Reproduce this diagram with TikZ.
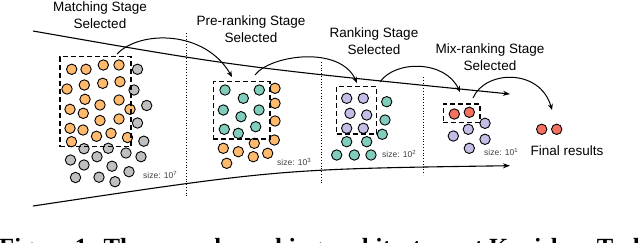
\documentclass[tikz,border=0pt]{standalone}
\usepackage{fontspec}
\setmainfont{Liberation Sans}
\newfontfamily\capfont{Liberation Serif}
\usetikzlibrary{arrows.meta}
\definecolor{cOr}{HTML}{FFBA6E}
\definecolor{cTe}{HTML}{80CDBD}
\definecolor{cPu}{HTML}{C3BEE6}
\definecolor{cRe}{HTML}{F4715F}
\definecolor{cGr}{HTML}{BFBFBF}
\begin{document}
\begin{tikzpicture}[x=1pt,y=-1pt,
  ball/.style={draw=black,line width=0.9pt,fill=#1},
  stagebox/.style={draw=black,line width=1.2pt,dash pattern=on 5pt off 3pt,inner sep=0pt},
  lbl/.style={align=center,font=\fontsize{13.5}{17}\selectfont,inner sep=0pt},
  sizelbl/.style={anchor=west,inner sep=0pt,text=black!75,font=\fontsize{8.5}{9}\selectfont},
  arc/.style={line width=1pt,-{Stealth[length=6pt,width=5pt]}},
  funnel/.style={line width=1.1pt,-{Stealth[length=7pt,width=5pt]}},
  sep/.style={line width=0.8pt,dotted}]
\useasboundingbox (0,0) rectangle (640,242);
\fill[white] (0,0) rectangle (640,242);

% funnel lines
\coordinate (ts) at (33,31);
\coordinate (te) at (510,94);
\coordinate (bs) at (33,206);
\coordinate (be) at (510,165.7);
\draw[funnel] (ts) .. controls (237,66.7) .. (te);
\draw[funnel] (bs) .. controls (280,169) .. (be);

% separators
\coordinate (d1t) at (186,33);  \coordinate (d1b) at (186,197);
\coordinate (d2t) at (321,62);  \coordinate (d2b) at (321,185);
\coordinate (d3t) at (423,77);  \coordinate (d3b) at (423,175);
\draw[sep] (d1t) -- (d1b);
\draw[sep] (d2t) -- (d2b);
\draw[sep] (d3t) -- (d3b);

% matching stage
\foreach \p in {(71.7,69.3),(86,69.3),(103.3,65),(119,65),
  (67,89),(84.3,85),(102.7,83.3),(120,81.7),
  (85,99.3),(100,105),(119,100),(130,109.3),
  (70,109.3),(83.3,113.3),(100,120.5),(119,119),
  (70,128.3),(83,130),(96.5,136.3),(111,133.3),(127.5,137.5),
  (71.5,141.7)}
  \draw[ball=cOr] \p circle (5.2pt);
\foreach \p in {(137.5,69.3),(134,90),(146.7,105.5),(137.5,123),(143.8,141.2),
  (84,148.7),(97,156.7),(108.3,148.3),(126,153),(141,156.7),
  (70.5,160),(84,165),(112,166.2),(129,171.7),
  (75.5,177.5),(99,177.2),(115,181.7)}
  \draw[ball=cGr] \p circle (5.2pt);
\node[stagebox,minimum width=71pt,minimum height=90pt] (mbox) at (95.5,101.7) {};
\node[sizelbl] (msize) at (143,175) {size: 10\textsuperscript{7}};

% pre-ranking stage
\foreach \p in {(225,90),(243.3,98.3),(259.3,90),(223.3,110),(241,116.7),(259,110),
  (224.3,129.3),(238.3,133.3),(255.7,126.7)}
  \draw[ball=cTe] \p circle (5.2pt);
\foreach \p in {(275,88.3),(275,103.3),(275,121),(274.3,140),(254.3,143.3),
  (223.3,148.3),(238.3,151.7),(253.3,156.7),(267.7,153.3),(226.7,163.3)}
  \draw[ball=cOr] \p circle (5.2pt);
\node[stagebox,minimum width=56.7pt,minimum height=57.3pt] (pbox) at (241.65,110.35) {};
\node[sizelbl] (psize) at (277,162) {size: 10\textsuperscript{3}};

% ranking stage
\foreach \p in {(346.7,98.3),(363.3,98.3),(350,113.3),(366.7,115),(346.7,128.3),(363.3,128.3)}
  \draw[ball=cPu] \p circle (5.2pt);
\foreach \p in {(386.7,101.7),(385,120),(382.3,134.3),(346.7,141.7),(366.7,141.7),
  (336.7,155),(354.3,155),(371,155)}
  \draw[ball=cTe] \p circle (5.2pt);
\node[stagebox,minimum width=40pt,minimum height=47.3pt] (rbox) at (356.7,110.35) {};
\node[sizelbl] (rsize) at (382,154) {size: 10\textsuperscript{2}};

% mix-ranking stage
\foreach \p in {(485,123.3),(468.3,129.3),(453.3,136),(485,139.3),(469.3,148.3)}
  \draw[ball=cPu] \p circle (5.2pt);
\foreach \p in {(454.3,114),(469.3,112.3)}
  \draw[ball=cRe] \p circle (5.2pt);
\node[stagebox,minimum width=36.7pt,minimum height=18.3pt] (xbox) at (461.65,113.15) {};
\node[sizelbl] (xsize) at (484,152) {size: 10\textsuperscript{1}};

% final results
\draw[ball=cRe] (541.7,129.3) circle (5.2pt);
\draw[ball=cRe] (556.7,129.3) circle (5.2pt);
\node[lbl] (final) at (567,151) {Final results};

% stage labels
\node[lbl] (lm) at (100,15) {Matching Stage\\Selected};
\node[lbl] (lp) at (251,29) {Pre-ranking Stage\\Selected};
\node[lbl] (lr) at (374,41) {Ranking Stage\\Selected};
\node[lbl] (lx) at (490,57) {Mix-ranking Stage\\Selected};

% curved arrows
\coordinate (a1s) at (117,54);   \coordinate (a1e) at (232,77);
\coordinate (a2s) at (255,75);   \coordinate (a2e) at (357,83);
\coordinate (a3s) at (380,82);   \coordinate (a3e) at (460,92);
\coordinate (a4s) at (473,98);   \coordinate (a4e) at (552,110);
\draw[arc] (a1s) .. controls (140,30) and (205,30) .. (a1e);
\draw[arc] (a2s) .. controls (270,55) and (340,45) .. (a2e);
\draw[arc] (a3s) .. controls (395,60) and (445,60) .. (a3e);
\draw[arc] (a4s) .. controls (485,70) and (540,68) .. (a4e);

% cut-off caption
\begin{scope}
\clip (0,0) rectangle (640,242);
\node[anchor=base west,inner sep=0pt,font=\capfont\bfseries\fontsize{24.7}{26}\selectfont] (cap) at (-1,255.5) {Figure 1: The cascade ranking architecture at Kuaishou Tech};
\end{scope}
\end{tikzpicture}
\end{document}
